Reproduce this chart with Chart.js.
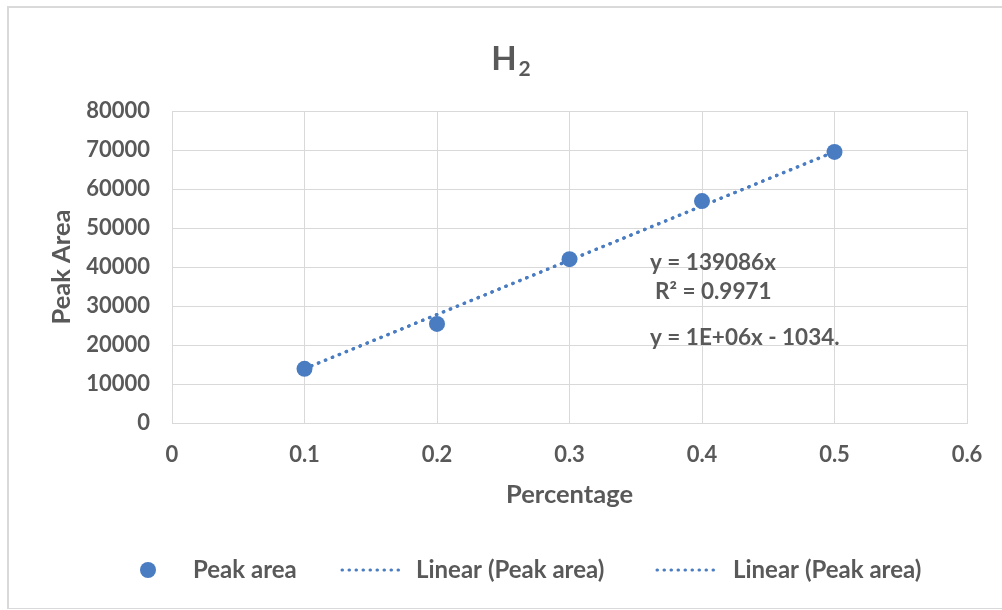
<!DOCTYPE html>
<html>
<head>
<meta charset="utf-8">
<script src="https://cdn.jsdelivr.net/npm/chart.js@4.4.1/dist/chart.umd.min.js"></script>
<style>
  html, body { margin: 0; padding: 0; background: #ffffff; }
  #wrap { position: relative; width: 1002px; height: 610px; overflow: hidden; }
  #frame { position: absolute; left: 7px; top: 6px; width: 1010px; height: 600px;
           border-left: 2px solid #d9d9d9; border-top: 2px solid #d9d9d9; border-bottom: 1px solid #d9d9d9;
           pointer-events: none; }
  canvas { position: absolute; left: 0; top: 0; }
</style>
</head>
<body>
<div id="wrap">
  <canvas id="chart" width="1002" height="610"></canvas>
  <div id="frame"></div>
</div>
<script>
// Calibration points for H2
const percentages = [0.1, 0.2, 0.3, 0.4, 0.5];
const peakAreas = [13900, 25400, 42000, 56900, 69500];

// Trendline through the origin
const trendSlope = 139086;
const trendRange = [0.1, 0.5];

// Text shown on the chart
const titleMain = 'H';
const titleSub = '2';
const xTitle = 'Percentage';
const yTitle = 'Peak Area';
const seriesName = 'Peak area';
const trendName = 'Linear (Peak area)';
const equationLines = ['y = 139086x', 'R² = 0.9971', 'y = 1E+06x - 1034.'];

const FONT = 'Lato';
const TEXT = '#595959';
const BLUE = '#4a7cc2';
const GRID = '#d9d9d9';

const trendPoints = trendRange.map(x => ({ x: x, y: trendSlope * x }));

const trendStyle = {
  type: 'line',
  showLine: true,
  borderColor: BLUE,
  borderWidth: 3.2,
  borderDash: [0.5, 7],
  borderCapStyle: 'round',
  pointRadius: 0,
  fill: false
};

const overlay = {
  id: 'overlay',
  afterDraw(chart) {
    const ctx = chart.ctx;
    ctx.save();
    ctx.fillStyle = TEXT;
    ctx.textBaseline = 'middle';

    // Title with subscript
    ctx.font = 'bold 33px ' + FONT;
    const wH = ctx.measureText(titleMain).width;
    ctx.font = 'bold 21px ' + FONT;
    const w2 = ctx.measureText(titleSub).width;
    const tx = 511 - (wH + w2 + 2) / 2;
    ctx.textAlign = 'left';
    ctx.font = 'bold 33px ' + FONT;
    ctx.fillText(titleMain, tx, 59);
    ctx.font = 'bold 21px ' + FONT;
    ctx.fillText(titleSub, tx + wH + 2, 69);

    // Trendline equations
    ctx.font = 'bold 22.5px ' + FONT;
    ctx.fillText(equationLines[0], 650, 263);
    ctx.fillText(equationLines[1], 655, 292);
    ctx.fillText(equationLines[2], 650, 338);

    // Legend
    const ly = 570;
    ctx.font = 'bold 24px ' + FONT;
    ctx.fillStyle = BLUE;
    ctx.beginPath();
    ctx.arc(148, ly, 8, 0, Math.PI * 2);
    ctx.fill();
    ctx.fillStyle = TEXT;
    ctx.fillText(seriesName, 193, ly);

    [[340, 416], [655, 733]].forEach(([lx, textX]) => {
      ctx.save();
      ctx.strokeStyle = BLUE;
      ctx.lineWidth = 3;
      ctx.lineCap = 'round';
      ctx.setLineDash([0.5, 6.5]);
      ctx.beginPath();
      ctx.moveTo(lx + 2, ly);
      ctx.lineTo(lx + 63, ly);
      ctx.stroke();
      ctx.restore();
      ctx.fillText(trendName, textX, ly);
    });
    ctx.restore();
  }
};

new Chart(document.getElementById('chart'), {
  type: 'scatter',
  data: {
    datasets: [
      {
        label: seriesName,
        data: percentages.map((x, i) => ({ x: x, y: peakAreas[i] })),
        backgroundColor: BLUE,
        borderWidth: 0,
        pointRadius: 8,
        pointHoverRadius: 8,
        order: 0
      },
      Object.assign({ label: trendName, data: trendPoints, order: 1 }, trendStyle),
      Object.assign({ label: trendName, data: trendPoints, order: 2 }, trendStyle)
    ]
  },
  options: {
    responsive: false,
    animation: false,
    events: [],
    layout: { padding: { left: 8, right: 35, top: 111, bottom: 99.7 } },
    plugins: {
      legend: { display: false },
      title: { display: false },
      tooltip: { enabled: false }
    },
    scales: {
      x: {
        type: 'linear',
        min: 0,
        max: 0.6,
        ticks: {
          stepSize: 0.1,
          padding: 19,
          color: TEXT,
          font: { family: FONT, size: 22, weight: 'bold' },
          callback: v => String(Math.round(v * 10) / 10)
        },
        grid: { color: GRID, lineWidth: 1, drawTicks: false },
        border: { color: GRID },
        title: {
          display: true,
          text: xTitle,
          color: TEXT,
          padding: { top: 0, bottom: 0 },
          font: { family: FONT, size: 25.5, weight: 'bold', lineHeight: 1.2 }
        },
        afterFit(scale) { scale.height = 87.3; }
      },
      y: {
        type: 'linear',
        min: 0,
        max: 80000,
        ticks: {
          stepSize: 10000,
          padding: 22,
          color: TEXT,
          font: { family: FONT, size: 22, weight: 'bold' },
          callback: v => String(v)
        },
        grid: { color: GRID, lineWidth: 1, drawTicks: false },
        border: { color: GRID },
        title: {
          display: true,
          text: yTitle,
          color: TEXT,
          padding: { top: 38.7, bottom: 0 },
          font: { family: FONT, size: 25.5, weight: 'bold', lineHeight: 1.2 }
        },
        afterFit(scale) { scale.width = 164; }
      }
    }
  },
  plugins: [overlay]
});
</script>
</body>
</html>
